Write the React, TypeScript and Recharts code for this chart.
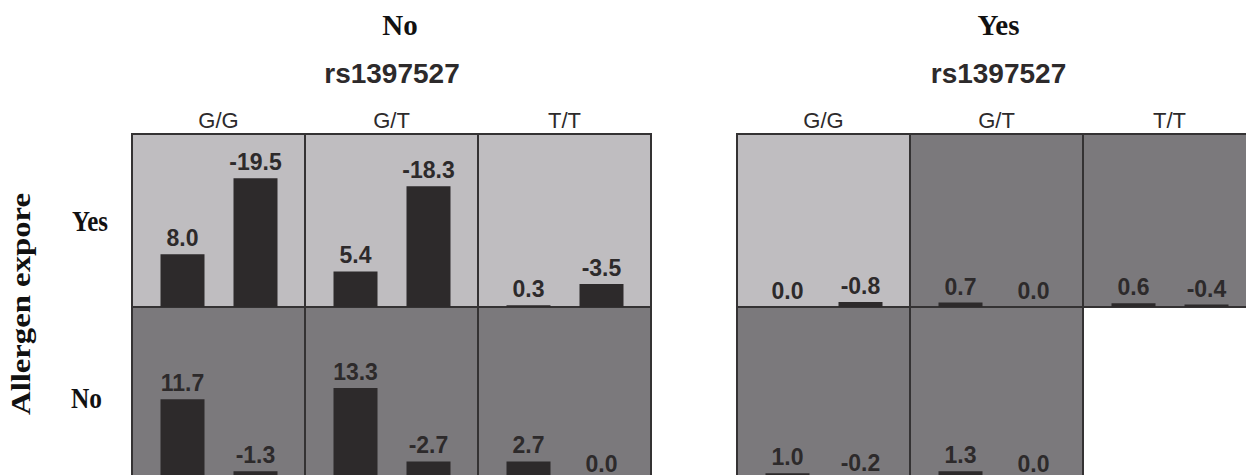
import React from 'react';
import { BarChart, Bar, XAxis, YAxis, LabelList } from 'recharts';

// ---- Data ----
const PANEL_TITLES = ['No', 'Yes'];
const SNP_LABEL = 'rs1397527';
const GENOTYPES = ['G/G', 'G/T', 'T/T'];
const ROW_TITLES = ['Yes', 'No'];
const ROW_AXIS_TITLE = 'Allergen expore';
const BAR_KEYS = ['a', 'b'];

// values per genotype: [first bar, second bar]
const panelNo_rowYes = [[8.0, -19.5], [5.4, -18.3], [0.3, -3.5]];
const panelNo_rowNo = [[11.7, -1.3], [13.3, -2.7], [2.7, 0.0]];
const panelYes_rowYes = [[0.0, -0.8], [0.7, 0.0], [0.6, -0.4]];
const panelYes_rowNo = [[1.0, -0.2], [1.3, 0.0]];

// cell shading: 'L' light, 'D' dark
const panelNo_rowYes_shade = ['L', 'L', 'L'];
const panelNo_rowNo_shade = ['D', 'D', 'D'];
const panelYes_rowYes_shade = ['L', 'D', 'D'];
const panelYes_rowNo_shade = ['D', 'D'];

const ROW_MAX = [26.2, 25.0];

// ---- Styling / layout ----
const W = 1246;
const H = 475;
const PANEL_X = [132, 737];
const CELL_W = 173;
const ROW_Y = [133.5, 306.7];
const CELL_H = 173.2;
const LIGHT = '#bfbdc0';
const DARK = '#7b797c';
const BAR = '#2d2a2b';
const LINE = '#343233';
const SANS = '"Liberation Sans", Arial, sans-serif';
const SERIF = '"Liberation Serif", "Times New Roman", serif';

const grid = [
  [panelNo_rowYes, panelNo_rowNo],
  [panelYes_rowYes, panelYes_rowNo],
];
const shades = [
  [panelNo_rowYes_shade, panelNo_rowNo_shade],
  [panelYes_rowYes_shade, panelYes_rowNo_shade],
];

function Cell({ values, rowIdx }: { values: number[]; rowIdx: number }) {
  const data = values.map((v, i) => ({ k: BAR_KEYS[i], v: Math.abs(v), label: v.toFixed(1) }));
  return (
    <BarChart
      width={CELL_W}
      height={CELL_H}
      data={data}
      margin={{ top: 0, right: 13.5, bottom: 0, left: 13.5 }}
      barCategoryGap={0}
    >
      <XAxis dataKey="k" hide />
      <YAxis hide type="number" domain={[0, ROW_MAX[rowIdx]]} allowDataOverflow />
      <Bar dataKey="v" fill={BAR} barSize={44} minPointSize={0.01} isAnimationActive={false}>
        <LabelList
          dataKey="label"
          position="top"
          offset={8}
          fill={BAR}
          fontSize={23}
          fontWeight="bold"
          fontFamily={SANS}
        />
      </Bar>
    </BarChart>
  );
}

export default function App() {
  const backgrounds: React.ReactNode[] = [];
  const charts: React.ReactNode[] = [];
  grid.forEach((panel, p) => {
    panel.forEach((row, r) => {
      row.forEach((vals, g) => {
        const x = PANEL_X[p] + g * CELL_W;
        const y = ROW_Y[r];
        const shade = shades[p][r][g] === 'L' ? LIGHT : DARK;
        backgrounds.push(
          <div
            key={`bg-${p}-${r}-${g}`}
            style={{
              position: 'absolute',
              left: x - 1,
              top: y - 1,
              width: CELL_W + 2,
              height: CELL_H + 2,
              boxSizing: 'border-box',
              border: `2px solid ${LINE}`,
              background: shade,
            }}
          />
        );
        charts.push(
          <div
            key={`ch-${p}-${r}-${g}`}
            style={{ position: 'absolute', left: x, top: y, width: CELL_W, height: CELL_H }}
          >
            <Cell values={vals} rowIdx={r} />
          </div>
        );
      });
    });
  });

  const panelCenters = [400, 998.5];
  const snpCenters = [392, 998.5];

  return (
    <div
      style={{
        position: 'absolute',
        left: 0,
        top: 0,
        width: W,
        height: H,
        overflow: 'hidden',
        background: '#ffffff',
      }}
    >
      {backgrounds}
      {charts}
      <svg
        width={W}
        height={H}
        style={{ position: 'absolute', left: 0, top: 0, pointerEvents: 'none' }}
      >
        {PANEL_TITLES.map((t, i) => (
          <text
            key={`pt-${i}`}
            x={panelCenters[i]}
            y={35}
            textAnchor="middle"
            fontFamily={SERIF}
            fontWeight="bold"
            fontSize={29}
            fill="#111"
          >
            {t}
          </text>
        ))}
        {PANEL_TITLES.map((_, i) => (
          <text
            key={`snp-${i}`}
            x={snpCenters[i]}
            y={83}
            textAnchor="middle"
            fontFamily={SANS}
            fontWeight="bold"
            fontSize={28}
            fill="#2d2a2b"
          >
            {SNP_LABEL}
          </text>
        ))}
        {PANEL_X.map((px, p) =>
          GENOTYPES.map((gt, g) => (
            <text
              key={`gt-${p}-${g}`}
              x={px + g * CELL_W + CELL_W / 2}
              y={128}
              textAnchor="middle"
              fontFamily={SANS}
              fontSize={22}
              fill="#2d2a2b"
            >
              {gt}
            </text>
          ))
        )}
        <text
          x={72}
          y={231}
          fontFamily={SERIF}
          fontWeight="bold"
          fontSize={29}
          fill="#111"
          textLength={36}
          lengthAdjust="spacingAndGlyphs"
        >
          {ROW_TITLES[0]}
        </text>
        <text
          x={71}
          y={408}
          fontFamily={SERIF}
          fontWeight="bold"
          fontSize={29}
          fill="#111"
          textLength={31}
          lengthAdjust="spacingAndGlyphs"
        >
          {ROW_TITLES[1]}
        </text>
        <text
          transform="translate(30,304) rotate(-90)"
          x={0}
          y={0}
          textAnchor="middle"
          fontFamily={SERIF}
          fontWeight="bold"
          fontSize={28}
          fill="#111"
          textLength={222}
          lengthAdjust="spacingAndGlyphs"
        >
          {ROW_AXIS_TITLE}
        </text>
      </svg>
    </div>
  );
}
